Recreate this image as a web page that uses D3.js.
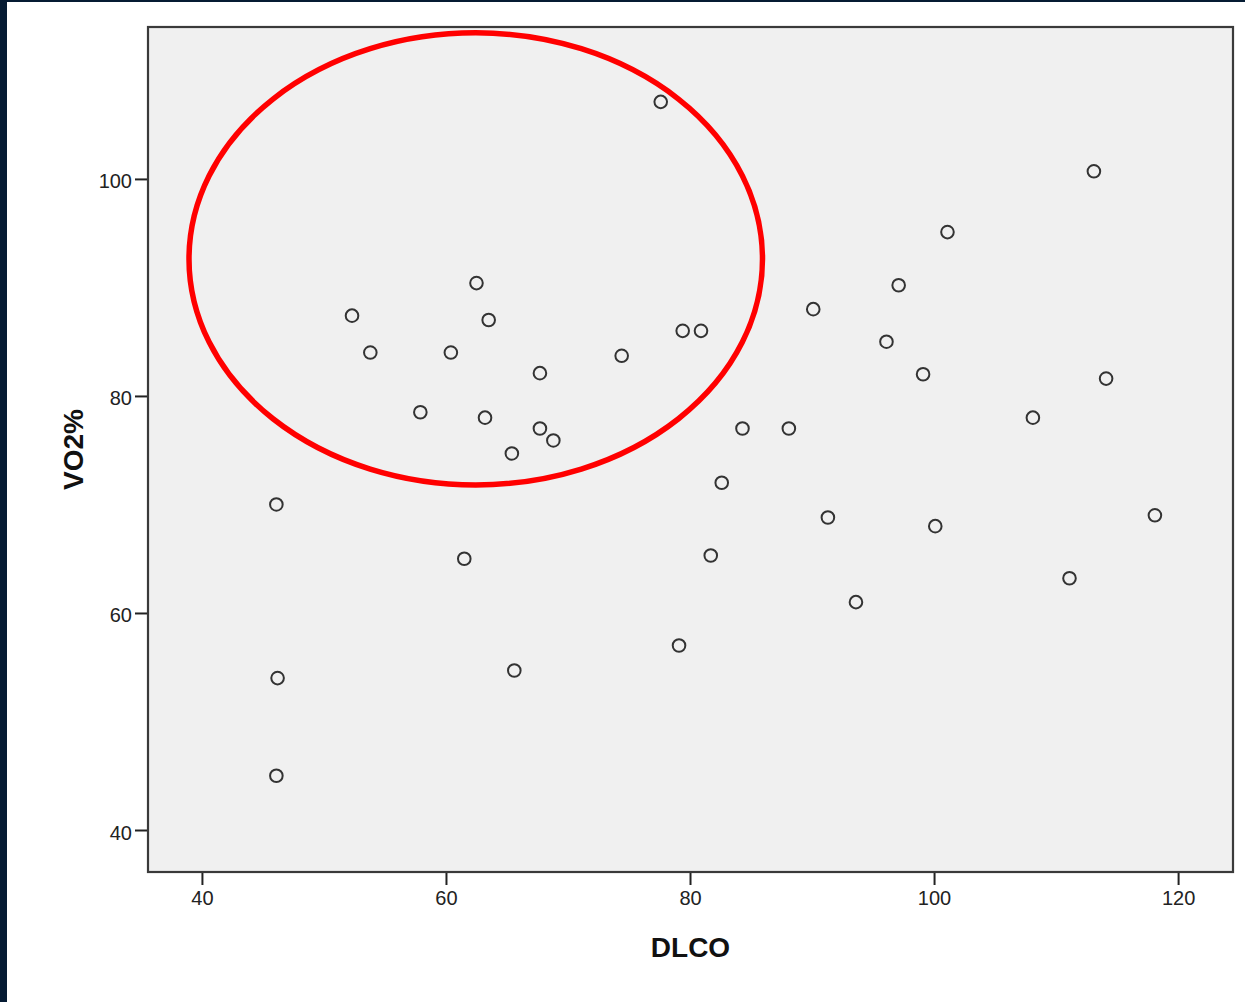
<!DOCTYPE html>
<html>
<head>
<meta charset="utf-8">
<script src="https://cdn.jsdelivr.net/npm/d3@7"></script>
<style>
  html, body { margin: 0; padding: 0; background: #ffffff; }
  svg { display: block; }
</style>
</head>
<body>
<svg id="chart" width="1245" height="1002"></svg>
<script>
// ---- data ----
const dlco = [77.6, 113.1, 101.1, 62.5, 97.1, 52.3, 63.5, 90.1, 79.4, 80.9,
              96.1, 53.8, 60.4, 74.4, 67.7, 99.1, 114.1, 57.9, 63.2, 108.1,
              67.7, 84.3, 88.1, 68.8, 65.4, 82.6, 46.1, 91.3, 118.1, 100.1,
              61.5, 81.7, 111.1, 93.6, 79.1, 65.6, 46.2, 46.1];
const vo2  = [107.1, 100.7, 95.1, 90.4, 90.2, 87.4, 87.0, 88.0, 86.0, 86.0,
              85.0, 84.0, 84.0, 83.7, 82.1, 82.0, 81.6, 78.5, 78.0, 78.0,
              77.0, 77.0, 77.0, 75.9, 74.7, 72.0, 70.0, 68.8, 69.0, 68.0,
              65.0, 65.3, 63.2, 61.0, 57.0, 54.7, 54.0, 45.0];
const xTicks = [40, 60, 80, 100, 120];
const yTicks = [40, 60, 80, 100];
const xLabel = "DLCO";
const yLabel = "VO2%";
// highlight ellipse (data units): center x, center y, radius x, radius y
const ellipseCenter = [62.44, 92.63];
const ellipseRadius = [23.5, 20.83];

// ---- layout ----
const svg = d3.select("#chart");
const W = 1245, H = 1002;
const plot = { left: 148, right: 1233, top: 27, bottom: 872 };

// page decoration (dark edge strips)
svg.append("rect").attr("x", 0).attr("y", 0).attr("width", W).attr("height", 2).attr("fill", "#051b33");
svg.append("rect").attr("x", 0).attr("y", 0).attr("width", 7).attr("height", H).attr("fill", "#051b33");

const x = d3.scaleLinear().domain([35.58, 124.5]).range([plot.left, plot.right]);
const y = d3.scaleLinear().domain([36.13, 114.0]).range([plot.bottom, plot.top]);

// plot background
svg.append("rect")
  .attr("x", plot.left).attr("y", plot.top)
  .attr("width", plot.right - plot.left).attr("height", plot.bottom - plot.top)
  .attr("fill", "#f0f0f0");

// axes
const fontFamily = "'Liberation Sans', Arial, sans-serif";
const xAxis = svg.append("g")
  .attr("transform", `translate(0,${plot.bottom})`)
  .call(d3.axisBottom(x).tickValues(xTicks).tickSize(13).tickPadding(6).tickFormat(d3.format("d")));
const yAxis = svg.append("g")
  .attr("transform", `translate(${plot.left},0)`)
  .call(d3.axisLeft(y).tickValues(yTicks).tickSize(13).tickPadding(3).tickFormat(d3.format("d")));
[xAxis, yAxis].forEach(g => {
  g.select(".domain").remove();
  g.selectAll(".tick line").attr("stroke", "#222").attr("stroke-width", 2);
  g.selectAll(".tick text").attr("fill", "#222").style("font-family", fontFamily).style("font-size", "20px");
});
yAxis.selectAll(".tick text").attr("dy", "0.45em");

// frame
svg.append("rect")
  .attr("x", plot.left).attr("y", plot.top)
  .attr("width", plot.right - plot.left).attr("height", plot.bottom - plot.top)
  .attr("fill", "none").attr("stroke", "#3a3a3a").attr("stroke-width", 2.2);

// points
svg.append("g").selectAll("circle")
  .data(dlco.map((d, i) => [d, vo2[i]]))
  .join("circle")
  .attr("cx", d => x(d[0]))
  .attr("cy", d => y(d[1]))
  .attr("r", 6.3)
  .attr("fill", "none")
  .attr("stroke", "#333")
  .attr("stroke-width", 2);

// highlight ellipse
svg.append("ellipse")
  .attr("cx", x(ellipseCenter[0]))
  .attr("cy", y(ellipseCenter[1]))
  .attr("rx", x(ellipseCenter[0] + ellipseRadius[0]) - x(ellipseCenter[0]))
  .attr("ry", y(ellipseCenter[1] - ellipseRadius[1]) - y(ellipseCenter[1]))
  .attr("fill", "none")
  .attr("stroke", "#ff0000")
  .attr("stroke-width", 5.5);

// axis titles
svg.append("text")
  .attr("x", (plot.left + plot.right) / 2).attr("y", 957)
  .attr("text-anchor", "middle")
  .style("font-family", fontFamily).style("font-size", "28px").style("font-weight", "bold")
  .attr("fill", "#111")
  .text(xLabel);
svg.append("text")
  .attr("transform", `translate(83,${(plot.top + plot.bottom) / 2}) rotate(-90)`)
  .attr("text-anchor", "middle")
  .style("font-family", fontFamily).style("font-size", "28px").style("font-weight", "bold")
  .attr("fill", "#111")
  .text(yLabel);
</script>
</body>
</html>
